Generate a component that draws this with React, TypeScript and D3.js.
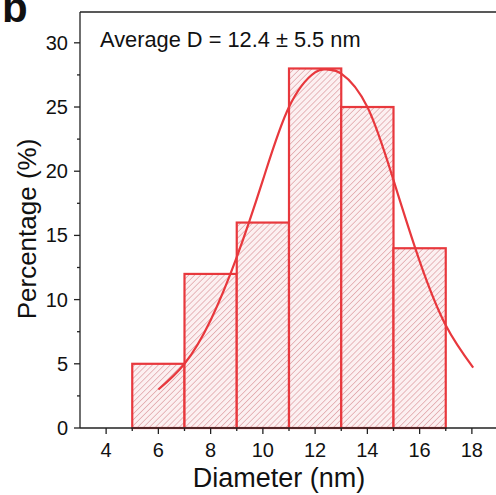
import React from "react";
import * as d3 from "d3";

const binStarts = [5, 7, 9, 11, 13, 15];
const binEnds = [7, 9, 11, 13, 15, 17];
const percentages = [5, 12, 16, 28, 25, 14];

const fitX = [6.0, 7, 8, 9, 10, 11, 12, 12.5, 13, 14, 15, 16, 17, 18.05];
const fitY = [3.0, 5.0, 8.4, 13.3, 19.3, 25.0, 27.7, 27.9, 27.6, 25.0, 19.3, 13.0, 8.0, 4.7];

const xMajorTicks = [4, 6, 8, 10, 12, 14, 16, 18];
const xMinorTicks = [5, 7, 9, 11, 13, 15, 17];
const yMajorTicks = [0, 5, 10, 15, 20, 25, 30];
const yMinorTicks = [2.5, 7.5, 12.5, 17.5, 22.5, 27.5];

const annotation = "Average D = 12.4 \u00b1 5.5 nm";
const xTitle = "Diameter (nm)";
const yTitle = "Percentage (%)";
const panelLabel = "b";

const W = 496;
const H = 495;
const left = 80;
const top = 12;
const bottom = 428;

const RED = "#e8383d";
const FONT = "'Liberation Sans', Arial, Helvetica, sans-serif";

export default function App() {
  const x = d3.scaleLinear().domain([3, 19]).range([left, 498]);
  const y = d3.scaleLinear().domain([0, 32.4]).range([bottom, top]);

  const line = d3
    .line<number>()
    .x((_, i) => x(fitX[i]))
    .y((d) => y(d))
    .curve(d3.curveNatural);

  return (
    <svg
      width={W}
      height={H}
      style={{ position: "absolute", left: 0, top: 0, background: "#fff" }}
      fontFamily={FONT}
    >
      <defs>
        <pattern
          id="hatch"
          patternUnits="userSpaceOnUse"
          width={4.2}
          height={4.2}
          patternTransform="rotate(45)"
        >
          <rect width={4.2} height={4.2} fill="#fcf0f1" />
          <line x1={0} y1={0} x2={0} y2={4.2} stroke="#d27f86" strokeWidth={1} />
        </pattern>
      </defs>
      <rect x={0} y={0} width={W} height={H} fill="#fff" />

      {percentages.map((v, i) => (
        <rect
          key={i}
          x={x(binStarts[i])}
          y={y(v)}
          width={x(binEnds[i]) - x(binStarts[i])}
          height={y(0) - y(v)}
          fill="url(#hatch)"
          stroke={RED}
          strokeWidth={2.2}
        />
      ))}

      <path d={line(fitY) || ""} fill="none" stroke={RED} strokeWidth={2.2} />

      <line x1={left} y1={top} x2={W} y2={top} stroke="#222" strokeWidth={1.3} />
      <line x1={left} y1={top} x2={left} y2={bottom} stroke="#222" strokeWidth={1.3} />
      <line x1={left} y1={bottom} x2={W} y2={bottom} stroke="#222" strokeWidth={1.3} />

      {xMajorTicks.map((t) => (
        <g key={"xm" + t}>
          <line x1={x(t)} x2={x(t)} y1={bottom} y2={bottom + 6} stroke="#222" strokeWidth={1.3} />
          <text x={x(t)} y={457} fontSize={20} textAnchor="middle" fill="#111">
            {t}
          </text>
        </g>
      ))}
      {xMinorTicks.map((t) => (
        <line key={"xn" + t} x1={x(t)} x2={x(t)} y1={bottom} y2={bottom + 3} stroke="#222" strokeWidth={1.3} />
      ))}

      {yMajorTicks.map((t) => (
        <g key={"ym" + t}>
          <line x1={left - 6} x2={left} y1={y(t)} y2={y(t)} stroke="#222" strokeWidth={1.3} />
          <text x={68} y={y(t) + 7} fontSize={20} textAnchor="end" fill="#111">
            {t}
          </text>
        </g>
      ))}
      {yMinorTicks.map((t) => (
        <line key={"yn" + t} x1={left - 3} x2={left} y1={y(t)} y2={y(t)} stroke="#222" strokeWidth={1.3} />
      ))}

      <text x={279} y={487} fontSize={27} textAnchor="middle" fill="#111">
        {xTitle}
      </text>
      <text
        transform={`translate(36, 229) rotate(-90)`}
        fontSize={26}
        textAnchor="middle"
        fill="#111"
      >
        {yTitle}
      </text>

      <text x={100} y={47} fontSize={21.8} fill="#111">
        {annotation}
      </text>

      <text x={2} y={22} fontSize={42} fontWeight="bold" fill="#111">
        {panelLabel}
      </text>
    </svg>
  );
}
